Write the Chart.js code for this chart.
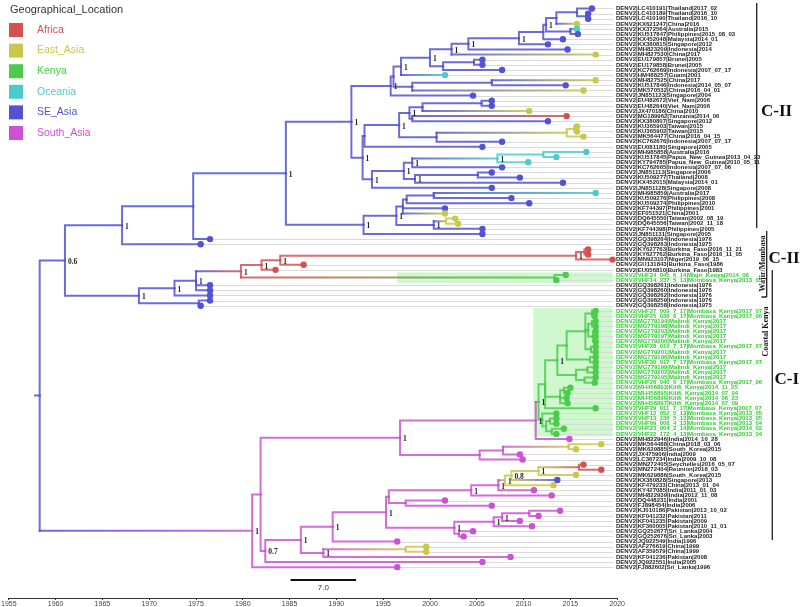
<!DOCTYPE html>
<html>
<head>
<meta charset="utf-8">
<script src="https://cdn.jsdelivr.net/npm/chart.js@4.4.1/dist/chart.umd.min.js"></script>
<style>
  html, body { margin: 0; padding: 0; background: #fff; }
</style>
</head>
<body>
<canvas id="tree" width="800" height="607"></canvas>
<script>
// locations
const locCodes = ['AF', 'EA', 'KE', 'OC', 'SE', 'SA'];
const locNames = ['Africa', 'East_Asia', 'Kenya', 'Oceania', 'SE_Asia', 'South_Asia'];
const locColors = ['#d35151', '#c8c84b', '#4ccb4c', '#4ccbcb', '#5252d2', '#cb52d2'];

// tips, top to bottom
const tipLabels = [
  'DENV2|LC410191|Thailand|2017_02', 'DENV2|LC410189|Thailand|2016_10', 'DENV2|LC410190|Thailand|2016_10',
  'DENV2|KX621247|China|2016', 'DENV2|KX372564|Australia|2015', 'DENV2|KU517847|Philippines|2015_08_03',
  'DENV2|KX452048|Malaysia|2014_01', 'DENV2|KX380815|Singapore|2012', 'DENV2|MH823209|Indonesia|2014',
  'DENV2|MH827530|China|2017', 'DENV2|EU179857|Brunei|2005', 'DENV2|EU179858|Brunei|2005',
  'DENV2|KC762669|Indonesia|2007_07_17', 'DENV2|HM488257|Guam|2001', 'DENV2|MH827525|China|2017',
  'DENV2|KU517846|Indonesia|2014_05_07', 'DENV2|MK570532|China|2016_04_01', 'DENV2|JN851123|Singapore|2004',
  'DENV2|EU482672|Viet_Nam|2006', 'DENV2|EU482640|Viet_Nam|2006', 'DENV2|JX470186|China|2010',
  'DENV2|MG189962|Tanzania|2014_06', 'DENV2|KX380807|Singapore|2012', 'DENV2|KU365903|Taiwan|2015',
  'DENV2|KU365902|Taiwan|2015', 'DENV2|MK564477|China|2016_04_15', 'DENV2|KC762676|Indonesia|2007_07_17',
  'DENV2|EU081180|Singapore|2005', 'DENV2|MH985858|Australia|2016', 'DENV2|KU517845|Papua_New_Guinea|2013_04_23',
  'DENV2|KY794785|Papua_New_Guinea|2010_05_11', 'DENV2|KC762665|Indonesia|2007_07_06', 'DENV2|JN851113|Singapore|2006',
  'DENV2|KU509277|Thailand|2008', 'DENV2|KX452015|Malaysia|2014_01', 'DENV2|JN851128|Singapore|2008',
  'DENV2|MH985859|Australia|2017', 'DENV2|KU509276|Philippines|2008', 'DENV2|KU509274|Philippines|2010',
  'DENV2|KF744397|Philippines|2001', 'DENV2|EF051521|China|2001', 'DENV2|DQ645550|Taiwan|2002_08_19',
  'DENV2|DQ645556|Taiwan|2002_11_18', 'DENV2|KF744398|Philippines|2005', 'DENV2|JN851131|Singapore|2005',
  'DENV2|GQ398264|Indonesia|1976', 'DENV2|GQ398263|Indonesia|1975', 'DENV2|KY627763|Burkina_Faso|2016_11_21',
  'DENV2|KY627762|Burkina_Faso|2016_11_05', 'DENV2|MN923107|Niger|2019_06_15', 'DENV2|GU131843|Burkina_Faso|1986',
  'DENV2|EU056810|Burkina_Faso|1983', 'DENV2|VHF24_045_6_14|Wajir_Kenya|2014_06', 'DENV2|VHF14_237_5_13|Mombasa_Kenya|2013_05',
  'DENV2|GQ398261|Indonesia|1976', 'DENV2|GQ398260|Indonesia|1976', 'DENV2|GQ398262|Indonesia|1976',
  'DENV2|GQ398259|Indonesia|1976', 'DENV2|GQ398258|Indonesia|1975', 'DENV2|VHF27_009_7_17|Mombasa_Kenya|2017_07',
  'DENV2|VHF25_036_6_17|Mombasa_Kenya|2017_06', 'DENV2|MG779194|Malindi_Kenya|2017', 'DENV2|MG779198|Malindi_Kenya|2017',
  'DENV2|MG779203|Malindi_Kenya|2017', 'DENV2|MG779197|Malindi_Kenya|2017', 'DENV2|MG779200|Malindi_Kenya|2017',
  'DENV2|VHF28_010_7_17|Mombasa_Kenya|2017_07', 'DENV2|MG779201|Malindi_Kenya|2017', 'DENV2|MG779196|Malindi_Kenya|2017',
  'DENV2|VHF30_017_7_17|Mombasa_Kenya|2017_07', 'DENV2|MG779199|Malindi_Kenya|2017', 'DENV2|MG779202|Malindi_Kenya|2017',
  'DENV2|MG779195|Malindi_Kenya|2017', 'DENV2|VHF26_040_6_17|Mombasa_Kenya|2017_06', 'DENV2|MH456893|Kilifi_Kenya|2014_11_25',
  'DENV2|MH456895|Kilifi_Kenya|2014_07_04', 'DENV2|MH456896|Kilifi_Kenya|2014_06_23', 'DENV2|MH456897|Kilifi_Kenya|2014_07_09',
  'DENV2|VHF29_011_7_17|Mombasa_Kenya|2017_07', 'DENV2|VHF12_052_5_13|Mombasa_Kenya|2013_05', 'DENV2|VHF13_236_5_13|Mombasa_Kenya|2013_05',
  'DENV2|VHF09_008_4_13|Mombasa_Kenya|2013_04', 'DENV2|VHF23_004_2_14|Mombasa_Kenya|2014_02', 'DENV2|VHF22_172_4_13|Mombasa_Kenya|2013_04',
  'DENV2|MH822946|India|2014_10_28', 'DENV2|MK564488|China|2018_03_06', 'DENV2|MK629885|South_Korea|2015',
  'DENV2|JX475906|India|2009', 'DENV2|LC367234|India|2009_10_08', 'DENV2|MN272405|Seychelles|2016_05_07',
  'DENV2|MN272404|Reunion|2018_03', 'DENV2|MK629886|South_Korea|2015', 'DENV2|KX380828|Singapore|2013',
  'DENV2|KF479233|China|2013_01_04', 'DENV2|KY427085|India|2011_01_03', 'DENV2|MH822939|India|2012_11_08',
  'DENV2|DQ448231|India|2001', 'DENV2|FJ898454|India|2006', 'DENV2|KJ010186|Pakistan|2013_10_02',
  'DENV2|KF041232|Pakistan|2011', 'DENV2|KF041235|Pakistan|2009', 'DENV2|KF360005|Pakistan|2010_11_01',
  'DENV2|GQ252677|Sri_Lanka|2004', 'DENV2|GQ252676|Sri_Lanka|2003', 'DENV2|JQ922549|India|1996',
  'DENV2|AF276619|China|1999', 'DENV2|AF359579|China|1999', 'DENV2|KF041236|Pakistan|2008',
  'DENV2|JQ922551|India|2005', 'DENV2|FJ882602|Sri_Lanka|1996'
];

const tipDates = [
  2017.3, 2016.9, 2016.9, 2015.7, 2015.7, 2015.8, 2014.2, 2012.6, 2014.7, 2017.7,
  2005.6, 2005.6, 2007.7, 2001.6, 2017.7, 2014.5, 2016.4, 2004.6, 2006.6, 2006.6,
  2010.6, 2014.6, 2012.6, 2015.7, 2015.7, 2016.4, 2007.7, 2005.6, 2016.7, 2013.5,
  2010.5, 2007.7, 2006.6, 2009.6, 2014.2, 2006.6, 2017.7, 2008.7, 2010.6, 2001.6,
  2001.6, 2002.7, 2003.0, 2005.6, 2005.6, 1976.5, 1975.5, 2016.9, 2016.9, 2019.5,
  1986.5, 1983.5, 2014.5, 2013.5, 1976.5, 1976.5, 1976.5, 1976.5, 1975.5, 2017.7,
  2017.6, 2017.7, 2017.7, 2017.7, 2017.7, 2017.7, 2017.7, 2017.7, 2017.7, 2017.7,
  2017.7, 2017.7, 2017.7, 2017.6, 2015.0, 2014.7, 2014.6, 2014.7, 2017.7, 2013.5,
  2013.5, 2013.5, 2014.3, 2013.5, 2014.9, 2018.3, 2015.6, 2009.6, 2009.9, 2016.4,
  2018.3, 2015.6, 2013.6, 2013.2, 2011.1, 2013.0, 2001.6, 2006.6, 2013.9, 2011.6,
  2009.6, 2010.9, 2004.6, 2003.6, 1996.5, 1999.6, 1999.6, 2008.6, 2005.6, 1996.5
];

const tipLocs = [
  'SE', 'SE', 'SE', 'EA', 'OC', 'SE', 'SE', 'SE', 'SE', 'EA',
  'SE', 'SE', 'SE', 'OC', 'EA', 'SE', 'EA', 'SE', 'SE', 'SE',
  'EA', 'AF', 'SE', 'EA', 'EA', 'EA', 'SE', 'SE', 'OC', 'OC',
  'OC', 'SE', 'SE', 'SE', 'SE', 'SE', 'OC', 'SE', 'SE', 'SE',
  'EA', 'EA', 'EA', 'SE', 'SE', 'SE', 'SE', 'AF', 'AF', 'AF',
  'AF', 'AF', 'KE', 'KE', 'SE', 'SE', 'SE', 'SE', 'SE', 'KE',
  'KE', 'KE', 'KE', 'KE', 'KE', 'KE', 'KE', 'KE', 'KE', 'KE',
  'KE', 'KE', 'KE', 'KE', 'KE', 'KE', 'KE', 'KE', 'KE', 'KE',
  'KE', 'KE', 'KE', 'KE', 'SA', 'EA', 'EA', 'SA', 'SA', 'AF',
  'AF', 'EA', 'SE', 'EA', 'SA', 'SA', 'SA', 'SA', 'SA', 'SA',
  'SA', 'SA', 'SA', 'SA', 'SA', 'EA', 'EA', 'SA', 'SA', 'SA'
];

// internal nodes: children are tip rows (numbers) or node names
const nodeNames = [
  'root', 'n06', 'SA1', 'SB', 'A', 'B', 'D', 'D1', 'F', 'H', 'I', 'L', 'M', 'N', 'N1', 'O', 'P', 'R', 'Q',
  'J', 'K', 'G', 'G1', 'E', 'T9', 'T5', 'T3', 'T2', 'T1', 'T4', 'T6', 'T7', 'T8', 'U', 'V', 'W', 'Y', 'Z',
  'X', 'X1', 'C', 'C6', 'C5', 'C4', 'C3', 'C7', 'C8',
  'nI', 'nJ', 'nL', 'nK', 'Af1', 'Af2', 'Af3', 'Af4', 'Af5', 'Gw',
  'SAs', 'S1', 'S2', 'S3', 'KR', 'KU', 'K17', 'Ka', 'Ka1', 'Ka11', 'Ka12', 'Ka121', 'Ka122', 'Ka13', 'Ka2',
  'Kb', 'Kb1', 'Kb2', 'K14', 'K141', 'G1k', 'G1k2', 'G1k3', 'G1k4',
  'S1195', 'S1253', 'S1415', 'S660', 'S748', 'S805', 'S1010y', 'S828', 'S960', 'S968',
  'R6', 'R5', 'R4', 'R3', 'R2', 'R1', 'S1010b', 'S1130', 'S1228', 'S1250', 'S1318', 'S1142'
];

const nodeDates = [
  1958.3, 1961.0, 1967.1, 1974.7, 1984.6, 1991.6, 1995.8, 1996.1, 1996.9, 2000.0, 2002.3, 2004.1, 2009.5, 2012.1, 2012.4, 2013.5, 2015.7, 2016.7, 2015.0,
  2001.4, 2004.7, 1998.1, 2006.6, 1992.8, 1993.0, 1996.7, 1997.8, 1999.2, 2005.5, 1998.1, 2000.7, 2014.6, 2015.4, 1993.8, 1997.2, 1998.1, 2007.2, 2012.1,
  1998.4, 2005.1, 1992.9, 1996.4, 1997.1, 1997.5, 2000.4, 2000.4, 2001.7,
  1968.9, 1972.7, 1975.0, 1975.3, 1979.8, 1982.0, 1984.0, 2015.6, 2016.5, 2013.3,
  1981.0, 1981.9, 1996.8, 2011.3, 2011.6, 2012.3, 2013.6, 2014.6, 2016.6, 2017.3, 2016.9, 2017.3, 2017.4, 2017.2, 2017.1,
  2015.6, 2016.8, 2016.5, 2013.9, 2014.3, 2012.0, 2012.4, 2012.8, 2013.0,
  2005.3, 2007.8, 2014.8, 1982.4, 1986.2, 1988.6, 1997.4, 1989.6, 1995.3, 1995.6,
  2004.4, 2007.3, 2008.0, 2008.7, 2011.6, 2015.9, 1997.4, 2002.6, 2006.8, 2007.7, 2010.6, 2003.1
];

const nodeLocs = [
  'SE', 'SE', 'SE', 'SE', 'SE', 'SE', 'SE', 'SE', 'SE', 'SE', 'SE', 'SE', 'SE', 'SE', 'SE', 'SE', 'SE', 'SE', 'SE',
  'SE', 'SE', 'SE', 'SE', 'SE', 'SE', 'SE', 'SE', 'SE', 'SE', 'SE', 'SE', 'EA', 'EA', 'SE', 'SE', 'SE', 'OC', 'OC',
  'SE', 'SE', 'SE', 'SE', 'SE', 'SE', 'SE', 'SE', 'EA',
  'SE', 'SE', 'SE', 'SE', 'AF', 'AF', 'AF', 'AF', 'AF', 'KE',
  'SA', 'SA', 'SA', 'SA', 'KE', 'KE', 'KE', 'KE', 'KE', 'KE', 'KE', 'KE', 'KE', 'KE', 'KE',
  'KE', 'KE', 'KE', 'KE', 'KE', 'KE', 'KE', 'KE', 'KE',
  'SA', 'SA', 'EA', 'SA', 'SA', 'SA', 'EA', 'SA', 'SA', 'SA',
  'SA', 'SA', 'EA', 'EA', 'EA', 'AF', 'SA', 'SA', 'SA', 'SA', 'SA', 'SA'
];

const nodeSupport = [
  '', '0.6', '1', '', '1', '1', '1', '', '1', '1', '1', '1', '1', '', '1', '', '', '', '',
  '', '', '', '', '1', '', '1', '1', '', '', '', '', '', '', '1', '1', '1', '1', '',
  '1', '', '1', '1', '', '', '', '1', '',
  '1', '1', '1', '', '1', '1', '1', '1', '', '',
  '1', '', '1', '1', '1', '', '1', '', '', '', '', '', '', '', '',
  '', '', '', '', '', '', '', '', '',
  '', '', '', '0.7', '1', '1', '', '1', '1', '',
  '1', '1', '1', '0.8', '1', '', '', '1', '1', '1', '', ''
];

const nodeKids = [
  ['n06', 'SAs'], ['SA1', 'nI'], ['SB', 47], ['A', 46], ['B', 'C'], ['D', 'E'], ['D1', 18], ['F', 'G'], ['H', 14],
  ['I', 'J'], ['L', 10], ['M', 9], ['N', 8], ['N1', 7], ['O', 'Q'], ['P', 4], [1, 'R'], [2, 3], [5, 6],
  ['K', 13], [11, 12], ['G1', 17], [15, 16], ['T9', 'U'], ['T5', 28], ['T3', 'T6'], ['T2', 'T4'], ['T1', 21],
  [19, 20], [22, 23], ['T7', 27], ['T8', 26], [24, 25], ['V', 36], ['W', 'X'], ['Y', 32], ['Z', 31], [29, 30],
  ['X1', 35], [33, 34], ['C6', 45], ['C5', 'C7'], ['C4', 40, 41], ['C3', 39], [37, 38], ['C8', 44], [42, 43],
  ['nJ', 'nK'], ['nL', 57], ['Af1', 55, 56], [58, 59], ['Af2', 'Gw'], ['Af3', 52], ['Af4', 51], ['Af5', 50], [48, 49], [53, 54],
  ['S1', 110], ['S2', 'S660'], ['S3', 'S1195'], ['KR', 85], ['KU', 'G1k'], ['K17', 'K14', 79], ['Ka', 'Kb'],
  ['Ka1', 'Ka2'], ['Ka11', 'Ka12', 'Ka13'], [60, 61], ['Ka121', 'Ka122'], [62, 63], [64, 65, 66], [67, 68], [69, 70],
  ['Kb1', 'Kb2'], [71, 72], [73, 74], ['K141', 77, 78], [75, 76], [80, 'G1k2'], ['G1k3', 'G1k4'], [81, 82], [83, 84],
  ['S1253', 89], ['S1415', 88], [86, 87], ['S748', 109], ['S828', 'S805'], ['S1010y', 108], [106, 107],
  ['S960', 105], ['S968', 'S1130'], ['R6', 'S1010b'],
  ['R5', 96], ['R4', 95], ['R3', 94], ['R2', 93], ['R1', 92], [90, 91], [97, 98], ['S1228', 'S1142'],
  ['S1250', 102], ['S1318', 101], [99, 100], [103, 104]
];

const rootStemStart = 1957.8;
const xTicks = { min: 1955, max: 2020, step: 5 };
const scaleBarYears = 7.0;

// ---- helpers
const nodeIdx = {};
nodeNames.forEach((n, i) => { nodeIdx[n] = i; });

function colorOf(code) { return locColors[locCodes.indexOf(code)]; }
function rgba(hex, a) {
  const v = parseInt(hex.slice(1), 16);
  return 'rgba(' + (v >> 16) + ',' + ((v >> 8) & 255) + ',' + (v & 255) + ',' + a + ')';
}
function dateOf(ref) { return typeof ref === 'number' ? tipDates[ref - 1] : nodeDates[nodeIdx[ref]]; }
function locOf(ref) { return typeof ref === 'number' ? tipLocs[ref - 1] : nodeLocs[nodeIdx[ref]]; }
const yCache = {};
function yOf(ref) {
  if (typeof ref === 'number') return ref;
  if (yCache[ref] !== undefined) return yCache[ref];
  const kids = nodeKids[nodeIdx[ref]];
  const v = (yOf(kids[0]) + yOf(kids[kids.length - 1])) / 2;
  yCache[ref] = v;
  return v;
}

const canvas = document.getElementById('tree');
const g2d = canvas.getContext('2d');

function branchDataset(pts, fromCol, toCol) {
  const c0 = rgba(fromCol, 0.85), c1 = rgba(toCol, 0.85);
  return {
    type: 'line',
    data: pts,
    showLine: true,
    borderWidth: 2,
    borderColor: c0,
    borderCapStyle: 'square',
    pointRadius: 0,
    tension: 0,
    fill: false,
    order: 2,
    segment: {
      borderColor: (sc) => {
        if (sc.p0DataIndex === 0 && pts.length === 3) return c0;
        if (c0 === c1) return c1;
        const grad = g2d.createLinearGradient(sc.p0.x, 0, sc.p1.x, 0);
        grad.addColorStop(0, c0);
        grad.addColorStop(1, c1);
        return grad;
      }
    }
  };
}

const datasets = [];

// tip dots
datasets.push({
  type: 'scatter',
  data: tipDates.map((d, i) => ({ x: d, y: i + 1 })),
  pointRadius: 3.2,
  pointBorderWidth: 0,
  pointBackgroundColor: tipLocs.map(colorOf),
  showLine: false,
  order: 0
});

// root stem
datasets.push(branchDataset(
  [{ x: rootStemStart, y: yOf('root') }, { x: nodeDates[0], y: yOf('root') }],
  colorOf(nodeLocs[0]), colorOf(nodeLocs[0])
));

// branches
nodeNames.forEach((name, i) => {
  const px = nodeDates[i], py = yOf(name), pc = colorOf(nodeLocs[i]);
  nodeKids[i].forEach((k) => {
    const ky = yOf(k);
    datasets.push(branchDataset(
      [{ x: px, y: py }, { x: px, y: ky }, { x: dateOf(k), y: ky }],
      pc, colorOf(locOf(k))
    ));
  });
});

const decor = {
  id: 'decor',
  beforeDatasetsDraw(chart) {
    const { ctx, scales: { x, y } } = chart;
    ctx.save();
    // shaded Kenya clades
    ctx.fillStyle = 'rgba(110, 235, 110, 0.33)';
    [[52.5, 54.55, 1996.5], [59.45, 84.5, 2011.05]].forEach(([r0, r1, x0]) => {
      const l = x.getPixelForValue(x0), r = x.getPixelForValue(2019.5);
      const t = y.getPixelForValue(r0), b = y.getPixelForValue(r1);
      ctx.fillRect(l, t, r - l, b - t);
    });
    // leader lines
    ctx.strokeStyle = '#dadada';
    ctx.lineWidth = 1;
    tipDates.forEach((d, i) => {
      const py = Math.round(y.getPixelForValue(i + 1)) + 0.5;
      ctx.beginPath();
      ctx.moveTo(x.getPixelForValue(d), py);
      ctx.lineTo(x.getPixelForValue(2019.6), py);
      ctx.stroke();
    });
    ctx.restore();
  },
  afterDatasetsDraw(chart) {
    const { ctx, scales: { x, y } } = chart;
    ctx.save();
    ctx.font = 'bold 7.5px "Liberation Serif", "Times New Roman", serif';
    ctx.fillStyle = '#222';
    ctx.textBaseline = 'middle';
    ctx.textAlign = 'left';
    nodeNames.forEach((n, i) => {
      if (!nodeSupport[i]) return;
      ctx.fillText(nodeSupport[i], x.getPixelForValue(nodeDates[i]) + 3, y.getPixelForValue(yOf(n)) + 1.5);
    });
    ctx.restore();
  },
  afterDraw(chart) {
    const { ctx, scales: { x, y } } = chart;
    ctx.save();
    // tip labels
    ctx.font = 'bold 6px "Liberation Sans", Arial, sans-serif';
    ctx.textBaseline = 'middle';
    ctx.textAlign = 'left';
    tipLabels.forEach((t, i) => {
      ctx.fillStyle = tipLocs[i] === 'KE' ? '#2fcf2f' : '#262626';
      ctx.fillText(t, 616, y.getPixelForValue(i + 1));
    });

    // legend
    ctx.font = '11px "Liberation Sans", Arial, sans-serif';
    ctx.fillStyle = '#333';
    ctx.fillText('Geographical_Location', 10, 10);
    ctx.font = '10.5px "Liberation Sans", Arial, sans-serif';
    locNames.forEach((name, i) => {
      const cy = 30 + i * 20.6;
      ctx.fillStyle = locColors[i];
      ctx.fillRect(9, cy - 7, 14, 14);
      ctx.fillText(name, 37, cy);
    });

    // clade brackets
    ctx.strokeStyle = '#222';
    ctx.lineWidth = 1.3;
    ctx.beginPath();
    ctx.moveTo(756.7, 3); ctx.lineTo(756.7, 228);
    ctx.moveTo(766.7, 231); ctx.lineTo(766.7, 297);
    ctx.moveTo(761.5, 297); ctx.lineTo(766.7, 297);
    ctx.moveTo(772.3, 270); ctx.lineTo(772.3, 540);
    ctx.stroke();

    ctx.fillStyle = '#111';
    ctx.font = 'bold 17px "Liberation Serif", "Times New Roman", serif';
    ctx.fillText('C-II', 761, 112);
    ctx.fillText('C-II', 768.5, 258.5);
    ctx.fillText('C-I', 774.5, 380);

    ctx.font = 'bold 8px "Liberation Serif", "Times New Roman", serif';
    ctx.textAlign = 'center';
    [['Wajir/Mombasa', 762.5, 263.5], ['Coastal Kenya', 766, 331.5]].forEach(([t, tx, ty]) => {
      ctx.save();
      ctx.translate(tx, ty);
      ctx.rotate(-Math.PI / 2);
      ctx.fillText(t, 0, 0);
      ctx.restore();
    });

    // scale bar
    const sb0 = x.getPixelForValue(1985.1), sb1 = x.getPixelForValue(1985.1 + scaleBarYears);
    const sby = y.getPixelForValue(112.53);
    ctx.strokeStyle = '#111';
    ctx.lineWidth = 2;
    ctx.beginPath();
    ctx.moveTo(sb0, sby); ctx.lineTo(sb1, sby);
    ctx.stroke();
    ctx.font = '8px "Liberation Sans", Arial, sans-serif';
    ctx.fillStyle = '#333';
    ctx.fillText(scaleBarYears.toFixed(1), (sb0 + sb1) / 2, y.getPixelForValue(114.05));
    ctx.restore();
  }
};

new Chart(canvas, {
  type: 'scatter',
  data: { datasets: datasets },
  options: {
    responsive: false,
    devicePixelRatio: 1,
    animation: false,
    events: [],
    layout: { padding: { left: 8.8, right: 182.8, top: 0, bottom: 0 } },
    plugins: { legend: { display: false }, tooltip: { enabled: false } },
    scales: {
      x: {
        type: 'linear',
        min: xTicks.min,
        max: xTicks.max,
        afterFit: (axis) => { axis.height = 9; },
        border: { display: true, color: '#333', width: 1 },
        grid: { display: true, drawOnChartArea: false, drawTicks: true, tickLength: 2, color: '#333' },
        ticks: {
          stepSize: xTicks.step,
          padding: 0,
          maxRotation: 0,
          autoSkip: false,
          color: '#444',
          font: { family: '"Liberation Sans", Arial, sans-serif', size: 7 },
          callback: (v) => String(v)
        }
      },
      y: {
        type: 'linear',
        display: false,
        reverse: true,
        min: 0.128,
        max: 116.02
      }
    }
  },
  plugins: [decor]
});
</script>
</body>
</html>
